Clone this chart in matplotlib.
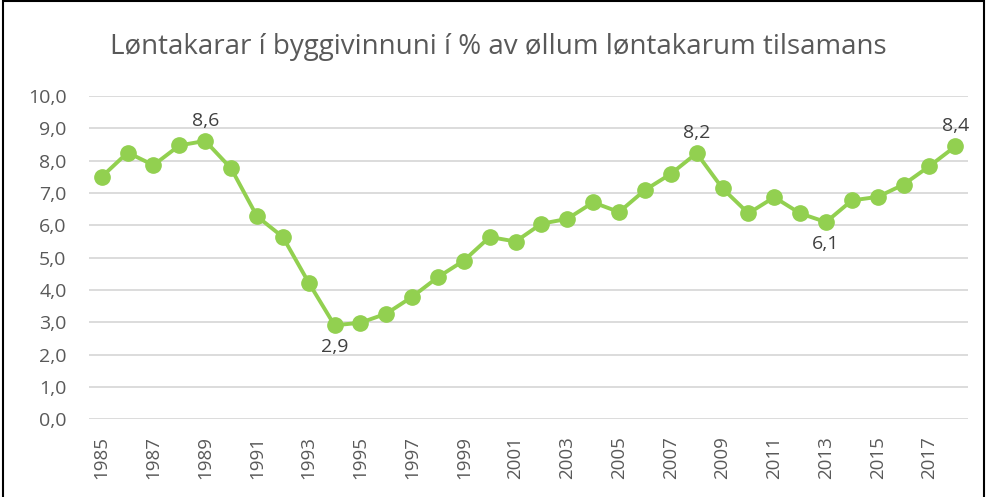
import matplotlib
matplotlib.use("Agg")
import matplotlib.pyplot as plt
from matplotlib.patches import Rectangle

years = list(range(1985, 2019))
values = [7.50, 8.25, 7.86, 8.47, 8.61, 7.76, 6.28, 5.64, 4.23, 2.91,
          2.99, 3.27, 3.79, 4.40, 4.91, 5.64, 5.50, 6.05, 6.20, 6.71,
          6.41, 7.09, 7.59, 8.23, 7.14, 6.37, 6.87, 6.37, 6.10, 6.77,
          6.88, 7.26, 7.83, 8.44]
labelled = {1989: "above", 1994: "below", 2008: "above", 2013: "below", 2018: "above"}
title = "Løntakarar í byggivinnuni í % av øllum løntakarum tilsamans"

plt.rcParams['font.family'] = ['Open Sans', 'DejaVu Sans']
grey = '#595959'
green = '#92d050'

fig = plt.figure(figsize=(9.87, 4.97), dpi=100)
ax = fig.add_axes([0.090, 0.156, 0.891, 0.651])

x = list(range(len(years)))
ax.plot(x, values, color=green, linewidth=2.8, marker='o', markersize=11, zorder=3)

for i, (yr, v) in enumerate(zip(years, values)):
    if yr in labelled:
        txt = f"{v:.1f}".replace('.', ',')
        if labelled[yr] == "above":
            ax.annotate(txt, (i, v), xytext=(0, 8), textcoords='offset points',
                        ha='center', va='bottom', fontsize=14, color='#404040')
        else:
            ax.annotate(txt, (i, v), xytext=(0, -9), textcoords='offset points',
                        ha='center', va='top', fontsize=14, color='#404040')

ax.set_xlim(-0.5, len(years) - 0.5)
ax.set_ylim(0, 10)
ax.set_yticks([i for i in range(0, 11)])
ax.set_yticklabels([f"{i:.1f}".replace('.', ',') for i in range(0, 11)], fontsize=14, color=grey)
ax.set_xticks(x[::2])
ax.set_xticklabels([str(y) for y in years[::2]], rotation=90, fontsize=13.5, color=grey)
ax.tick_params(axis='both', length=0)
ax.tick_params(axis='y', pad=16)
ax.tick_params(axis='x', pad=12)
ax.grid(axis='y', color='#d9d9d9', linewidth=1.3)
ax.set_axisbelow(True)
for s in ax.spines.values():
    s.set_visible(False)

fig.text(0.505, 0.905, title, ha='center', va='center', fontsize=20, color=grey)

fig.patches.append(Rectangle((0.003, -0.1), 0.994, 1.097, transform=fig.transFigure,
                             fill=False, edgecolor='black', linewidth=1.5))

fig.savefig("out.png", dpi=100)
